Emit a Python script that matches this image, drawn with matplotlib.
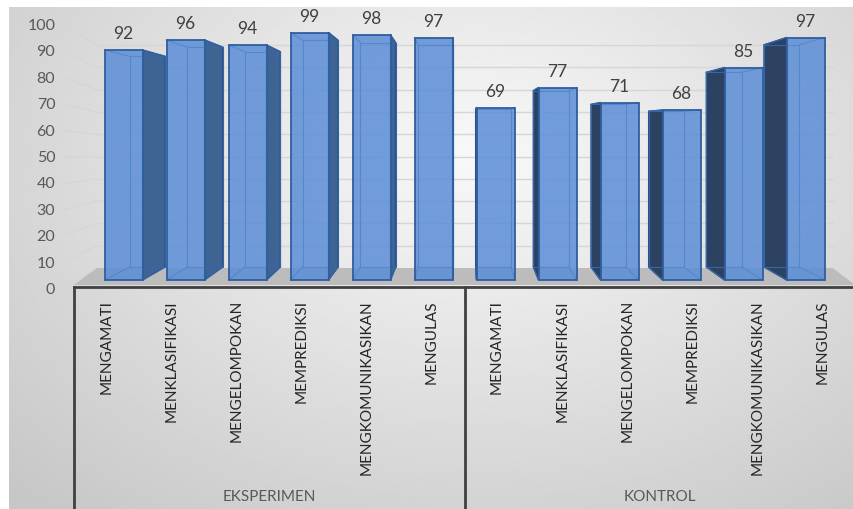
import numpy as np
import matplotlib.pyplot as plt
from matplotlib.patches import Polygon, Rectangle

plt.rcParams['font.family'] = ['Lato', 'DejaVu Sans']

# %%
# Data
groups = ['EKSPERIMEN', 'KONTROL']
aspects = ['MENGAMATI', 'MENKLASIFIKASI', 'MENGELOMPOKAN',
           'MEMPREDIKSI', 'MENGKOMUNIKASIKAN', 'MENGULAS']
eksperimen = [92, 96, 94, 99, 98, 97]
kontrol = [69, 77, 71, 68, 85, 97]
y_ticks = list(range(0, 101, 10))

labels = aspects + aspects
values = eksperimen + kontrol
n = len(values)

# %%
# Fake 3-D perspective helpers (x in category units, y in value units)
vx = (n - 1) / 2
SX_BACK, SY_BACK, VY_BACK = 0.93, 0.916, 62.0


def px(x, s):
    return vx + s * (x - vx)


def back_y(v):
    return VY_BACK + SY_BACK * (v - VY_BACK)


def wall_y(v):  # gridlines on the back wall
    return 4.8 + 0.892 * v


def edge_y(v):  # tick positions on the front edge of the side wall
    return -3.6 + 1.056 * v


fig = plt.figure(figsize=(8.54, 5.10), dpi=100)
ax = fig.add_axes([0, 0, 1, 1])
ax.set_xlim(-1.992, 11.782)
ax.set_ylim(-91.6, 112.4)
ax.axis('off')

# background gradient
gx = np.linspace(0, 1, 300)
gy = np.linspace(0, 1, 200)
U, W = np.meshgrid(gx, gy)
r = np.sqrt(((U - 0.55) / 0.8) ** 2 + ((W - 0.3) / 0.95) ** 2)
bg = np.clip(0.975 - 0.2 * r, 0.78, 1.0)
ax.imshow(bg, cmap='gray', vmin=0, vmax=1, extent=[-1.847, 11.782, -91.6, 109.2],
          aspect='auto', interpolation='bilinear', zorder=0)

# floor
left_f, right_f = px(-0.5, 1.05), px(n - 0.5, 1.05)
left_b, right_b = px(-0.5, 0.99), px(n - 0.5, 0.99)
ax.add_patch(Polygon([(left_f, -2), (right_f, -2), (right_b, wall_y(0)), (left_b, wall_y(0))],
                     closed=True, fc='#bcbcbc', ec='none', zorder=1))

# gridlines and y tick labels
for v in y_ticks:
    if v > 0:
        ax.plot([left_b, right_b], [wall_y(v), wall_y(v)], color='#d6d6d6', lw=1, zorder=1.5)
    ax.plot([px(-0.5, 1.075), left_b], [edge_y(v), wall_y(v)], color='#d6d6d6', lw=1, zorder=1.5)
    ax.text(px(-0.5, 1.1), edge_y(v), str(v), ha='right', va='center',
            fontsize=11.5, color='#595959', zorder=5)

# bars
w = 0.613
for i, v in enumerate(values):
    x0, x1 = i - w / 2, i + w / 2
    bx0, bx1 = px(x0, SX_BACK), px(x1, SX_BACK)
    by0, by1 = back_y(0), back_y(v)
    if i < vx:
        side = [(x1, 0), (x1, v), (bx1, by1), (bx1, by0)]
        side_c = '#3e6493'
    else:
        side = [(x0, 0), (x0, v), (bx0, by1), (bx0, by0)]
        side_c = '#2c4260'
    ax.add_patch(Polygon(side, closed=True, fc=side_c, ec='#2a4f82', lw=1, zorder=2))
    ax.plot([bx0, bx1, bx1, bx0, bx0], [by0, by0, by1, by1, by0],
            color='#3566aa', lw=0.8, zorder=2.2)
    for (fx, fy), (bxx, byy) in [((x0, v), (bx0, by1)), ((x1, v), (bx1, by1)),
                                 ((x0, 0), (bx0, by0)), ((x1, 0), (bx1, by0))]:
        ax.plot([fx, bxx], [fy, byy], color='#3566aa', lw=0.8, zorder=2.2)
    ax.add_patch(Rectangle((x0, 0), w, v, fc='#5b8dd6', alpha=0.85, ec='none', zorder=3))
    ax.add_patch(Rectangle((x0, 0), w, v, fc='none', ec='#2f5e9e', lw=1.3, zorder=3.1))
    ax.text(i, v + 6.8, str(v), ha='center', va='center', fontsize=12.5,
            color='#404040', zorder=5)

# category axis
ax.plot([left_f, right_f], [-2.8, -2.8], color='#404040', lw=2, zorder=4)
for g in range(len(groups) + 1):
    xs = px(g * len(aspects) - 0.5, 1.05)
    ax.plot([xs, xs], [-2.8, -91.6], color='#404040', lw=2, zorder=4)
for i, lab in enumerate(labels):
    ax.text(px(i, 1.05), -7.6, lab, rotation=90, ha='center', va='top',
            fontsize=11, color='#262626', zorder=5)
for g, name in enumerate(groups):
    xc = px(g * len(aspects) + (len(aspects) - 1) / 2, 1.05)
    ax.text(xc, -86.4, name, ha='center', va='center', fontsize=11,
            color='#595959', zorder=5)

fig.savefig('out.png', dpi=100)
